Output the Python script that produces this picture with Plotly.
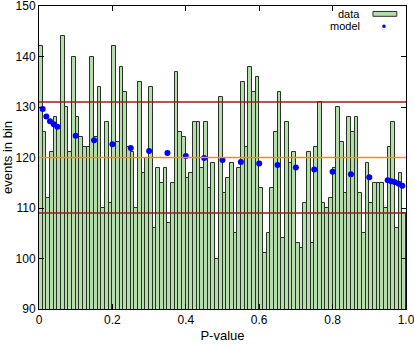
import plotly.graph_objects as go

# ── data: events per P-value bin (100 bins of width 0.01) ──
bin_counts = [
    142, 125, 112, 121, 128, 126, 144, 130, 121, 140,
    128, 124, 122, 122, 140, 124, 134, 110, 127, 111,
    142, 123, 138, 133, 122, 121, 110, 135, 117, 120,
    134, 106, 118, 115, 118, 107, 115, 137, 125, 124,
    116, 117, 127, 127, 118, 127, 114, 119, 100, 132,
    113, 116, 119, 105, 118, 135, 122, 138, 133, 136,
    114, 101, 105, 114, 125, 133, 104, 127, 119, 121,
    103, 102, 111, 121, 103, 122, 131, 111, 110, 112,
    118, 130, 123, 113, 128, 125, 128, 113, 105, 119,
    111, 115, 115, 115, 110, 122, 127, 106, 117, 109,
]
bin_width = 0.01
bin_centers = [bin_width * (i + 0.5) for i in range(len(bin_counts))]

model_x = [0.01, 0.02, 0.03, 0.04, 0.05, 0.10, 0.15, 0.20, 0.25, 0.30,
           0.35, 0.40, 0.45, 0.50, 0.55, 0.60, 0.65, 0.70, 0.75, 0.80,
           0.85, 0.90, 0.95, 0.96, 0.97, 0.98, 0.99]
model_y = [129.6, 128.1, 127.2, 126.6, 126.1, 124.3, 123.4, 122.6, 121.9, 121.3,
           120.9, 120.3, 119.9, 119.5, 119.1, 118.8, 118.5, 118.0, 117.6, 117.2,
           116.7, 116.1, 115.5, 115.3, 115.1, 114.8, 114.4]

band_levels = [131, 120, 109]
band_colors = ["#9b1c1c", "#ff8c00", "#9b1c1c"]

x_ticks = [0, 0.2, 0.4, 0.6, 0.8, 1.0]
x_tick_text = ["0", "0.2", "0.4", "0.6", "0.8", "1.0"]

FONT = "Liberation Sans, Arial, sans-serif"

fig = go.Figure()
fig.add_trace(go.Bar(
    name="data", x=bin_centers, y=bin_counts, width=bin_width,
    marker=dict(color="#b6dcae", line=dict(color="#263524", width=1)),
))
fig.add_trace(go.Scatter(
    name="model", x=model_x, y=model_y, mode="markers",
    marker=dict(color="#0000ff", size=6),
))

for level, col in zip(band_levels, band_colors):
    fig.add_hline(y=level, line=dict(color=col, width=1.5))

# gnuplot-style legend: text right-aligned, sample on the right
fig.add_annotation(x=0.88, y=0.975, xref="paper", yref="paper", text="data",
                   showarrow=False, xanchor="right", yanchor="middle",
                   font=dict(size=11, color="#000000", family=FONT))
fig.add_annotation(x=0.88, y=0.933, xref="paper", yref="paper", text="model",
                   showarrow=False, xanchor="right", yanchor="middle",
                   font=dict(size=11, color="#000000", family=FONT))
fig.add_shape(type="rect", xref="paper", yref="paper",
              x0=0.910, x1=0.975, y0=0.966, y1=0.982,
              fillcolor="#b6dcae", line=dict(color="#263524", width=1))
fig.add_shape(type="circle", xref="paper", yref="paper",
              x0=0.935, x1=0.945, y0=0.927, y1=0.939,
              fillcolor="#0000ff", line=dict(width=0))

fig.update_layout(
    width=414, height=346,
    paper_bgcolor="#ffffff", plot_bgcolor="#ffffff",
    margin=dict(l=39, r=8, t=6, b=37),
    font=dict(family=FONT, size=12, color="#000000"),
    showlegend=False, bargap=0,
)
fig.update_xaxes(
    range=[0, 1], tickvals=x_ticks, ticktext=x_tick_text,
    ticks="inside", ticklen=5, tickcolor="#000000",
    showline=True, linecolor="#000000", linewidth=1, mirror="ticks",
    showgrid=False, zeroline=False, automargin=False,
    ticklabeloverflow="allow",
    title=dict(text="P-value", font=dict(size=13), standoff=4),
)
fig.update_yaxes(
    range=[90, 150], dtick=10,
    ticks="inside", ticklen=5, tickcolor="#000000",
    showline=True, linecolor="#000000", linewidth=1, mirror="ticks",
    showgrid=False, zeroline=False, automargin=False,
    ticklabeloverflow="allow",
    title=dict(text="events in bin", font=dict(size=13), standoff=4),
)

# the page's default 8px body margin would shift the fixed-size figure
fig.write_html("out.html", config={"displayModeBar": False},
               post_script="document.body.style.margin='0';")
